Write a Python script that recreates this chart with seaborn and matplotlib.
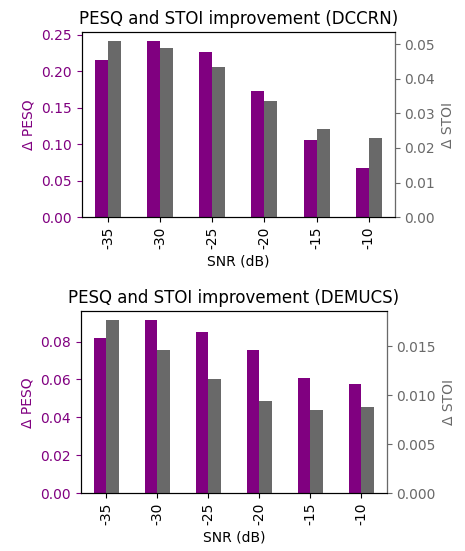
import pandas as pd
import seaborn as sns
import matplotlib.pyplot as plt

snr = ['-35', '-30', '-25', '-20', '-15', '-10']

dccrn_pesq = [0.215, 0.242, 0.227, 0.173, 0.106, 0.067]
dccrn_stoi = [0.0510, 0.0490, 0.0435, 0.0337, 0.0254, 0.0229]

demucs_pesq = [0.082, 0.0914, 0.085, 0.0756, 0.0608, 0.0577]
demucs_stoi = [0.0177, 0.0146, 0.0117, 0.0094, 0.0085, 0.0088]

pesq_color = 'purple'
stoi_color = 'dimgray'
palette = {'PESQ': pesq_color, 'STOI': stoi_color}
order = ['PESQ', 'STOI']

fig = plt.figure(figsize=(4.65, 5.51), dpi=100)
ax_top = fig.add_axes([0.176, 0.606, 0.673, 0.336])
ax_bot = fig.add_axes([0.174, 0.105, 0.658, 0.330])


def draw(ax, pesq, stoi, title):
    df_p = pd.DataFrame({'SNR': snr, 'value': pesq, 'metric': 'PESQ'})
    df_s = pd.DataFrame({'SNR': snr, 'value': stoi, 'metric': 'STOI'})
    sns.barplot(data=df_p, x='SNR', y='value', hue='metric', hue_order=order,
                palette=palette, width=0.5, dodge=True, saturation=1,
                legend=False, ax=ax)
    ax2 = ax.twinx()
    sns.barplot(data=df_s, x='SNR', y='value', hue='metric', hue_order=order,
                palette=palette, width=0.5, dodge=True, saturation=1,
                legend=False, ax=ax2)
    ax.set_title(title, fontsize=12)
    ax.set_xlabel('SNR (dB)')
    ax.set_ylabel('Δ PESQ', color=pesq_color)
    ax2.set_ylabel('Δ STOI', color=stoi_color)
    ax.tick_params(axis='y', colors=pesq_color)
    ax2.tick_params(axis='y', colors=stoi_color)
    ax2.spines['right'].set_color(stoi_color)
    ax.tick_params(axis='x', rotation=90)
    ax.set_xlim(-0.5, 5.5)
    return ax2


ax2_top = draw(ax_top, dccrn_pesq, dccrn_stoi, 'PESQ and STOI improvement (DCCRN)')
ax2_bot = draw(ax_bot, demucs_pesq, demucs_stoi, 'PESQ and STOI improvement (DEMUCS)')

fig.savefig('out.png', dpi=100)
